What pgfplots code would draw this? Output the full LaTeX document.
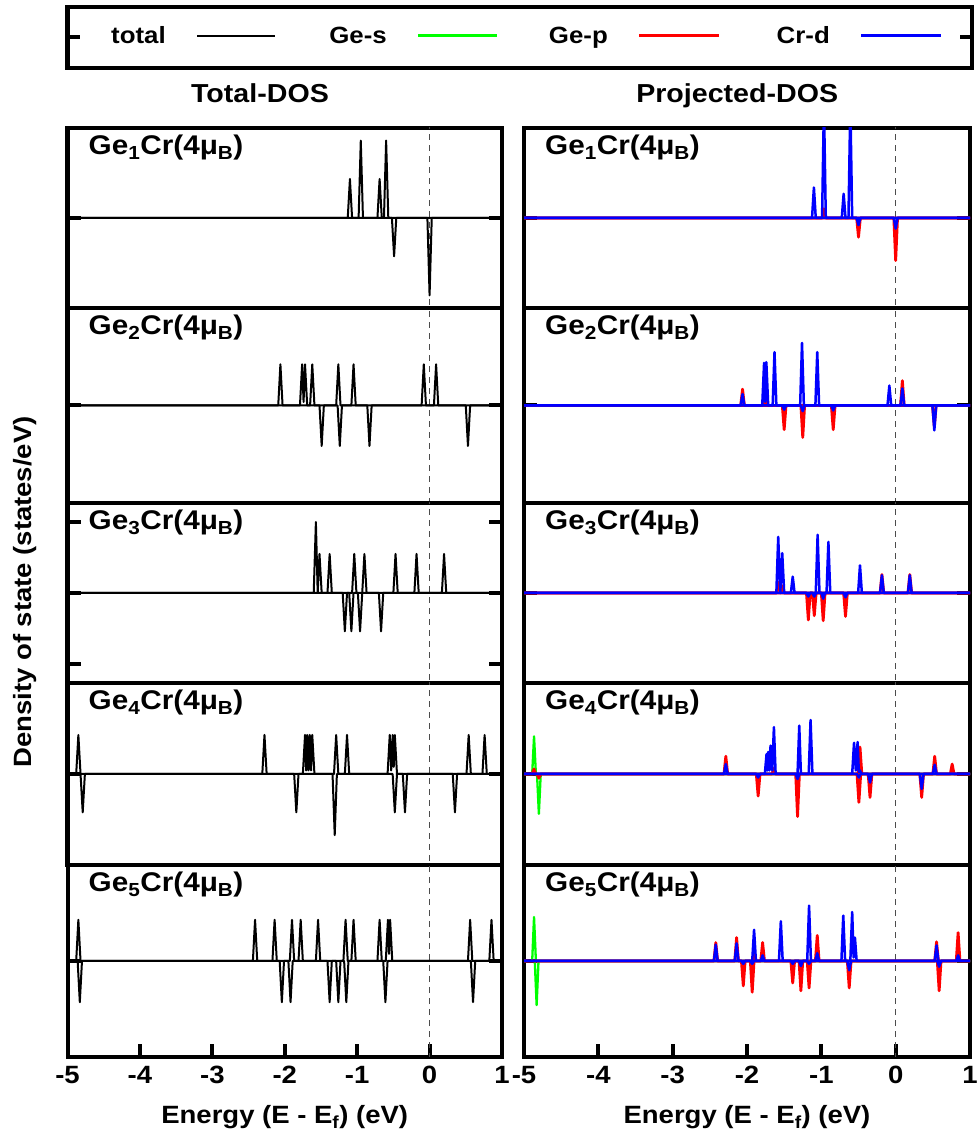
\documentclass[border=0pt]{standalone}
\usepackage{fontspec}
\setmainfont{Liberation Sans}[FakeStretch=1.1]
\usepackage{pgfplots}
\pgfplotsset{compat=1.18}

\newcommand\flab{\fontsize{27}{30}\selectfont\bfseries}
\newcommand\ftit{\fontsize{26}{30}\selectfont\bfseries}
\newcommand\fleg{\fontsize{23.5}{28}\selectfont\bfseries}
\newcommand\ftick{\fontsize{25}{30}\selectfont\bfseries}

\pgfplotsset{
  dos/.style={
    scale only axis, anchor=south west,
    xmin=-5, xmax=1,
    xtick=\empty,
    ytick={0}, yticklabels={},
    ytick pos=both,
    tick align=inside,
    major tick length=13pt,
    tick style={black, line width=4pt},
    axis line style={line width=4pt},
  },
  L/.style={dos, width=434.5pt},
  R/.style={dos, width=446pt},
  bottom/.style={
    xtick={-5,...,1}, xticklabels={-5,-4,-3,-2,-1,0,1},
    xtick pos=bottom,
    xticklabel style={font=\ftick, yshift=-6pt},
    xlabel={Energy (E - E\textsubscript{f}) (eV)},
    xlabel style={font=\ftick, at={(axis description cs:0.5,0)}, anchor=base, yshift=-67pt},
  },
  zero/.style={black!70, line width=1.5pt, dash pattern=on 6pt off 5pt},
  tot/.style={black, line width=2pt, line join=round},
  ges/.style={green, line width=2.3pt, line join=round},
  gep/.style={red, line width=2.8pt, line join=round},
  crd/.style={blue, line width=2.5pt, line join=round},
}
\newcommand\plabel[1]{\node[anchor=base west, inner sep=0pt, font=\flab, xshift=21pt, yshift=-27pt] at (rel axis cs:0,1) {Ge\textsubscript{#1}Cr(4μ\textsubscript{B})};}

\begin{document}
\begin{tikzpicture}
\path[use as bounding box] (0,0) rectangle (978pt,1141pt);

% legend box
\begin{axis}[scale only axis, anchor=south west, at={(67.5pt,1073pt)},
  width=904.5pt, height=61pt, xmin=0, xmax=904.5, ymin=0, ymax=1,
  xtick=\empty, ytick={0.5}, yticklabels={}, ytick pos=both,
  tick align=inside, major tick length=12pt,
  tick style={black, line width=4pt}, axis line style={line width=4pt}]
\addplot[black, line width=2pt] coordinates {(129.5,0.53) (207.5,0.53)};
\addplot[green, line width=3pt] coordinates {(350.5,0.53) (429.5,0.53)};
\addplot[red, line width=3pt] coordinates {(571.5,0.53) (651.5,0.53)};
\addplot[blue, line width=3pt] coordinates {(793.5,0.53) (873.5,0.53)};
\node[anchor=base east, inner sep=0pt, font=\fleg] at (axis cs:98.5,0.40) {total};
\node[anchor=base east, inner sep=0pt, font=\fleg] at (axis cs:319.5,0.40) {Ge-s};
\node[anchor=base east, inner sep=0pt, font=\fleg] at (axis cs:540.5,0.40) {Ge-p};
\node[anchor=base east, inner sep=0pt, font=\fleg] at (axis cs:762.5,0.40) {Cr-d};
\end{axis}

\node[rotate=90, font=\ftick] at (25pt,549pt) {Density of state (states/eV)};

%%%%%%%%%%%%%%%% Total DOS (left column)
% Ge1Cr
\begin{axis}[L, at={(67.5pt,833pt)}, height=180pt, ymin=-1.268, ymax=1.268,
  title={Total-DOS}, title style={font=\ftit, at={(axis description cs:0.443,1)}, anchor=base, yshift=19pt}]
\addplot[zero] coordinates {(0,-2) (0,2)};
\addplot[tot] coordinates {(-5,0) (-1.13,0) (-1.10,0.55) (-1.07,0) (-0.98,0) (-0.95,1.09) (-0.92,0) (-0.72,0) (-0.69,0.55) (-0.66,0) (-0.63,0) (-0.60,1.09) (-0.57,0) (1,0)};
\addplot[tot] coordinates {(-5,0) (-0.52,0) (-0.49,-0.54) (-0.46,0) (-0.03,0) (0,-1.09) (0.03,0) (1,0)};
\plabel{1}
\end{axis}
% Ge2Cr
\begin{axis}[L, at={(67.5pt,638pt)}, height=195pt, ymin=-1.373, ymax=1.373]
\addplot[zero] coordinates {(0,-2) (0,2)};
\addplot[tot] coordinates {(-5,0) (-2.09,0) (-2.06,0.58) (-2.03,0) (-1.79,0) (-1.76,0.58) (-1.74,0.05) (-1.72,0.58) (-1.69,0) (-1.65,0) (-1.62,0.58) (-1.59,0) (-1.29,0) (-1.26,0.58) (-1.23,0) (-1.08,0) (-1.05,0.58) (-1.02,0) (-0.11,0) (-0.08,0.58) (-0.05,0) (0.06,0) (0.09,0.58) (0.12,0) (1,0)};
\addplot[tot] coordinates {(-5,0) (-1.52,0) (-1.49,-0.57) (-1.46,0) (-1.27,0) (-1.24,-0.57) (-1.21,0) (-0.86,0) (-0.83,-0.57) (-0.80,0) (0.50,0) (0.53,-0.57) (0.56,0) (1,0)};
\plabel{2}
\end{axis}
% Ge3Cr
\begin{axis}[L, at={(67.5pt,458pt)}, height=180pt, ymin=-1.268, ymax=1.268, ytick={-1,0,1}]
\addplot[zero] coordinates {(0,-2) (0,2)};
\addplot[tot] coordinates {(-5,0) (-1.60,0) (-1.57,1.0) (-1.545,0) (-1.52,0.55) (-1.49,0) (-1.41,0) (-1.38,0.55) (-1.35,0) (-1.07,0) (-1.04,0.55) (-1.01,0) (-0.93,0) (-0.90,0.55) (-0.87,0) (-0.50,0) (-0.47,0.55) (-0.44,0) (-0.21,0) (-0.18,0.55) (-0.15,0) (0.17,0) (0.20,0.55) (0.23,0) (1,0)};
\addplot[tot] coordinates {(-5,0) (-1.20,0) (-1.17,-0.54) (-1.14,0) (-1.11,0) (-1.08,-0.54) (-1.05,0) (-0.99,0) (-0.96,-0.54) (-0.93,0) (-0.70,0) (-0.67,-0.54) (-0.64,0) (1,0)};
\plabel{3}
\end{axis}
% Ge4Cr
\begin{axis}[L, at={(67.5pt,276pt)}, height=182pt, ymin=-1.282, ymax=1.282]
\addplot[zero] coordinates {(0,-2) (0,2)};
\addplot[tot] coordinates {(-5,0) (-4.88,0) (-4.85,0.55) (-4.82,0) (-2.31,0) (-2.28,0.55) (-2.25,0) (-1.75,0) (-1.72,0.55) (-1.705,0.05) (-1.69,0.55) (-1.672,0.05) (-1.655,0.55) (-1.637,0.05) (-1.62,0.55) (-1.59,0) (-1.32,0) (-1.29,0.55) (-1.26,0) (-1.17,0) (-1.14,0.55) (-1.11,0) (-0.58,0) (-0.55,0.55) (-0.53,0.05) (-0.51,0.55) (-0.495,0.1) (-0.48,0.55) (-0.45,0) (0.51,0) (0.54,0.55) (0.57,0) (0.73,0) (0.76,0.55) (0.79,0) (1,0)};
\addplot[tot] coordinates {(-5,0) (-4.82,0) (-4.79,-0.54) (-4.76,0) (-1.87,0) (-1.84,-0.54) (-1.81,0) (-1.34,0) (-1.31,-0.86) (-1.28,0) (-0.51,0) (-0.48,-0.54) (-0.45,0) (-0.37,0) (-0.34,-0.54) (-0.31,0) (0.32,0) (0.35,-0.54) (0.38,0) (1,0)};
\plabel{4}
\end{axis}
% Ge5Cr
\begin{axis}[L, bottom, at={(67.5pt,84pt)}, height=192pt, ymin=-1.352, ymax=1.352]
\addplot[zero] coordinates {(0,-2) (0,2)};
\addplot[tot] coordinates {(-5,0) (-4.88,0) (-4.85,0.58) (-4.82,0) (-2.44,0) (-2.41,0.58) (-2.38,0) (-2.17,0) (-2.14,0.58) (-2.11,0) (-1.93,0) (-1.90,0.58) (-1.87,0) (-1.81,0) (-1.78,0.58) (-1.75,0) (-1.57,0) (-1.54,0.58) (-1.51,0) (-1.19,0) (-1.16,0.58) (-1.13,0) (-1.08,0) (-1.05,0.58) (-1.02,0) (-0.72,0) (-0.69,0.58) (-0.66,0) (-0.605,0) (-0.575,0.58) (-0.56,0.1) (-0.545,0.58) (-0.515,0) (0.53,0) (0.56,0.58) (0.59,0) (0.825,0) (0.855,0.58) (0.885,0) (1,0)};
\addplot[tot] coordinates {(-5,0) (-4.86,0) (-4.83,-0.58) (-4.80,0) (-2.07,0) (-2.04,-0.58) (-2.01,0) (-1.95,0) (-1.92,-0.58) (-1.89,0) (-1.41,0) (-1.38,-0.58) (-1.35,0) (-1.29,0) (-1.26,-0.58) (-1.23,0) (-1.18,0) (-1.15,-0.58) (-1.12,0) (-0.64,0) (-0.61,-0.58) (-0.58,0) (0.57,0) (0.60,-0.58) (0.63,0) (1,0)};
\plabel{5}
\end{axis}

%%%%%%%%%%%%%%%% Projected DOS (right column)
% Ge1Cr
\begin{axis}[R, at={(524pt,833pt)}, height=180pt, ymin=-1.268, ymax=1.268,
  title={Projected-DOS}, title style={font=\ftit, at={(axis description cs:0.478,1)}, anchor=base, yshift=19pt}]
\addplot[zero] coordinates {(0,-2) (0,2)};
\addplot[gep] coordinates {(-5,0) (-0.99,0) (-0.965,0.13) (-0.94,0) (1,0)};
\addplot[gep] coordinates {(-5,0) (-0.525,0) (-0.50,-0.27) (-0.475,0) (-0.025,0) (0,-0.60) (0.025,0) (1,0)};
\addplot[crd] coordinates {(-5,0) (-1.125,0) (-1.10,0.43) (-1.075,0) (-0.99,0) (-0.965,1.6) (-0.94,0) (-0.725,0) (-0.70,0.34) (-0.675,0) (-0.635,0) (-0.61,1.6) (-0.585,0) (1,0)};
\addplot[crd] coordinates {(-5,0) (-0.525,0) (-0.50,-0.10) (-0.475,0) (-0.025,0) (0,-0.15) (0.025,0) (1,0)};
\plabel{1}
\end{axis}
% Ge2Cr
\begin{axis}[R, at={(524pt,638pt)}, height=195pt, ymin=-1.373, ymax=1.373]
\addplot[zero] coordinates {(0,-2) (0,2)};
\addplot[gep] coordinates {(-5,0) (-2.085,0) (-2.06,0.23) (-2.035,0) (-1.775,0) (-1.75,0.08) (-1.725,0) (0.065,0) (0.09,0.35) (0.115,0) (1,0)};
\addplot[gep] coordinates {(-5,0) (-1.525,0) (-1.50,-0.34) (-1.475,0) (-1.275,0) (-1.25,-0.45) (-1.225,0) (-0.865,0) (-0.84,-0.34) (-0.815,0) (0.495,0) (0.52,-0.30) (0.545,0) (1,0)};
\addplot[crd] coordinates {(-5,0) (-2.085,0) (-2.06,0.16) (-2.035,0) (-1.795,0) (-1.77,0.60) (-1.755,0.05) (-1.74,0.61) (-1.715,0) (-1.655,0) (-1.63,0.75) (-1.605,0) (-1.285,0) (-1.26,0.88) (-1.235,0) (-1.08,0) (-1.055,0.75) (-1.03,0) (-0.11,0) (-0.085,0.28) (-0.06,0) (0.065,0) (0.09,0.24) (0.115,0) (1,0)};
\addplot[crd] coordinates {(-5,0) (-1.525,0) (-1.50,-0.06) (-1.475,0) (-1.275,0) (-1.25,-0.08) (-1.225,0) (-0.865,0) (-0.84,-0.07) (-0.815,0) (0.495,0) (0.52,-0.35) (0.545,0) (1,0)};
\plabel{2}
\end{axis}
% Ge3Cr
\begin{axis}[R, at={(524pt,458pt)}, height=180pt, ymin=-1.268, ymax=1.268]
\addplot[zero] coordinates {(0,-2) (0,2)};
\addplot[gep] coordinates {(-5,0) (-1.605,0) (-1.58,0.15) (-1.553,0) (-1.526,0.10) (-1.50,0) (-0.21,0) (-0.185,0.26) (-0.16,0) (0.165,0) (0.19,0.26) (0.215,0) (1,0)};
\addplot[gep] coordinates {(-5,0) (-1.20,0) (-1.175,-0.38) (-1.15,0) (-1.12,0) (-1.095,-0.32) (-1.07,0) (-1.0,0) (-0.975,-0.39) (-0.95,0) (-0.70,0) (-0.675,-0.33) (-0.65,0) (1,0)};
\addplot[crd] coordinates {(-5,0) (-1.605,0) (-1.58,0.79) (-1.553,0) (-1.526,0.56) (-1.50,0) (-1.41,0) (-1.385,0.23) (-1.36,0) (-1.075,0) (-1.05,0.82) (-1.025,0) (-0.93,0) (-0.905,0.72) (-0.88,0) (-0.505,0) (-0.48,0.39) (-0.455,0) (-0.21,0) (-0.185,0.25) (-0.16,0) (0.165,0) (0.19,0.25) (0.215,0) (1,0)};
\addplot[crd] coordinates {(-5,0) (-1.20,0) (-1.175,-0.05) (-1.15,0) (-1.12,0) (-1.095,-0.05) (-1.07,0) (-1.0,0) (-0.975,-0.08) (-0.95,0) (-0.70,0) (-0.675,-0.06) (-0.65,0) (1,0)};
\plabel{3}
\end{axis}
% Ge4Cr
\begin{axis}[R, at={(524pt,276pt)}, height=182pt, ymin=-1.282, ymax=1.282]
\addplot[zero] coordinates {(0,-2) (0,2)};
\addplot[ges] coordinates {(-5,0) (-4.89,0) (-4.865,0.53) (-4.84,0) (1,0)};
\addplot[ges] coordinates {(-5,0) (-4.825,0) (-4.80,-0.56) (-4.775,0) (1,0)};
\addplot[gep] coordinates {(-5,0) (-4.89,0) (-4.865,0.07) (-4.84,0) (-2.31,0) (-2.285,0.25) (-2.26,0) (-1.665,0) (-1.64,0.08) (-1.615,0) (-0.505,0) (-0.48,0.38) (-0.455,0) (0.50,0) (0.525,0.25) (0.55,0) (0.735,0) (0.76,0.14) (0.785,0) (1,0)};
\addplot[gep] coordinates {(-5,0) (-4.825,0) (-4.80,-0.06) (-4.775,0) (-1.875,0) (-1.85,-0.31) (-1.825,0) (-1.345,0) (-1.32,-0.60) (-1.295,0) (-0.52,0) (-0.495,-0.40) (-0.47,0) (-0.37,0) (-0.345,-0.33) (-0.32,0) (0.325,0) (0.35,-0.33) (0.375,0) (1,0)};
\addplot[crd] coordinates {(-5,0) (-2.31,0) (-2.285,0.14) (-2.26,0) (-1.76,0) (-1.737,0.28) (-1.725,0.05) (-1.714,0.31) (-1.70,0.05) (-1.683,0.40) (-1.66,0.05) (-1.638,0.66) (-1.615,0) (-1.32,0) (-1.297,0.68) (-1.275,0) (-1.17,0) (-1.145,0.76) (-1.12,0) (-0.585,0) (-0.56,0.44) (-0.536,0.05) (-0.512,0.45) (-0.496,0.03) (-0.481,0.05) (-0.46,0) (0.50,0) (0.525,0.13) (0.55,0) (1,0)};
\addplot[crd] coordinates {(-5,0) (-1.875,0) (-1.85,-0.05) (-1.825,0) (-1.345,0) (-1.32,-0.07) (-1.295,0) (-0.52,0) (-0.495,-0.05) (-0.47,0) (-0.37,0) (-0.345,-0.12) (-0.32,0) (0.325,0) (0.35,-0.21) (0.375,0) (1,0)};
\plabel{4}
\end{axis}
% Ge5Cr
\begin{axis}[R, bottom, at={(524pt,84pt)}, height=192pt, ymin=-1.352, ymax=1.352]
\addplot[zero] coordinates {(0,-2) (0,2)};
\addplot[ges] coordinates {(-5,0) (-4.89,0) (-4.865,0.62) (-4.84,0) (1,0)};
\addplot[ges] coordinates {(-5,0) (-4.855,0) (-4.83,-0.62) (-4.805,0) (1,0)};
\addplot[gep] coordinates {(-5,0) (-2.445,0) (-2.42,0.26) (-2.395,0) (-2.165,0) (-2.14,0.33) (-2.115,0) (-1.93,0) (-1.905,0.10) (-1.88,0) (-1.815,0) (-1.79,0.26) (-1.765,0) (-1.08,0) (-1.055,0.36) (-1.03,0) (0.525,0) (0.55,0.27) (0.575,0) (0.815,0) (0.84,0.40) (0.865,0) (1,0)};
\addplot[gep] coordinates {(-5,0) (-2.075,0) (-2.05,-0.35) (-2.025,0) (-1.955,0) (-1.93,-0.44) (-1.905,0) (-1.41,0) (-1.385,-0.31) (-1.36,0) (-1.30,0) (-1.275,-0.42) (-1.25,0) (-1.19,0) (-1.165,-0.38) (-1.14,0) (-0.65,0) (-0.625,-0.38) (-0.60,0) (0.56,0) (0.585,-0.42) (0.61,0) (1,0)};
\addplot[crd] coordinates {(-5,0) (-2.445,0) (-2.42,0.23) (-2.395,0) (-2.165,0) (-2.14,0.25) (-2.115,0) (-1.93,0) (-1.905,0.44) (-1.88,0) (-1.815,0) (-1.79,0.08) (-1.765,0) (-1.57,0) (-1.545,0.56) (-1.52,0) (-1.19,0) (-1.165,0.78) (-1.14,0) (-1.08,0) (-1.055,0.11) (-1.03,0) (-0.73,0) (-0.705,0.64) (-0.68,0) (-0.61,0) (-0.585,0.69) (-0.566,0.05) (-0.548,0.33) (-0.525,0) (0.525,0) (0.55,0.22) (0.575,0) (0.815,0) (0.84,0.08) (0.865,0) (1,0)};
\addplot[crd] coordinates {(-5,0) (-2.075,0) (-2.05,-0.04) (-2.025,0) (-1.955,0) (-1.93,-0.04) (-1.905,0) (-1.41,0) (-1.385,-0.04) (-1.36,0) (-1.30,0) (-1.275,-0.07) (-1.25,0) (-1.19,0) (-1.165,-0.04) (-1.14,0) (-0.65,0) (-0.625,-0.13) (-0.60,0) (0.56,0) (0.585,-0.08) (0.61,0) (1,0)};
\plabel{5}
\end{axis}
\end{tikzpicture}
\end{document}
